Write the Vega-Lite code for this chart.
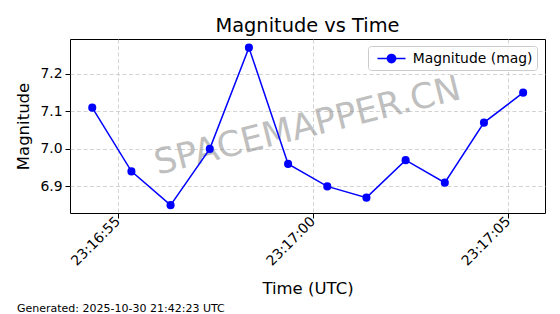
{
  "$schema": "https://vega.github.io/schema/vega-lite/v6.json",
  "padding": {"left": 15, "top": 15, "right": 5, "bottom": 2},
  "background": "white",
  "config": {"font": "DejaVu Sans", "view": {"stroke": "black", "strokeWidth": 1}},
  "title": {"text": "Generated: 2025-10-30 21:42:23 UTC", "orient": "bottom", "anchor": "start", "fontSize": 11, "fontWeight": "normal", "color": "black", "offset": 5, "dx": -53, "frame": "group"},
  "vconcat": [
    {
      "width": 475,
      "height": 174,
      "title": {"text": "Magnitude vs Time", "fontSize": 19.4, "fontWeight": "normal", "color": "black", "baseline": "alphabetic", "offset": -12, "anchor": "middle"},
      "data": {
        "values": [
          {"time": "2025-10-30T23:16:54.350Z", "mag": 7.11},
          {"time": "2025-10-30T23:16:55.354Z", "mag": 6.94},
          {"time": "2025-10-30T23:16:56.357Z", "mag": 6.85},
          {"time": "2025-10-30T23:16:57.361Z", "mag": 7.00},
          {"time": "2025-10-30T23:16:58.364Z", "mag": 7.27},
          {"time": "2025-10-30T23:16:59.368Z", "mag": 6.96},
          {"time": "2025-10-30T23:17:00.372Z", "mag": 6.90},
          {"time": "2025-10-30T23:17:01.375Z", "mag": 6.87},
          {"time": "2025-10-30T23:17:02.379Z", "mag": 6.97},
          {"time": "2025-10-30T23:17:03.383Z", "mag": 6.91},
          {"time": "2025-10-30T23:17:04.386Z", "mag": 7.07},
          {"time": "2025-10-30T23:17:05.390Z", "mag": 7.15}
        ]
      },
      "layer": [
        {
          "data": {"values": [{"label": "SPACEMAPPER.CN"}]},
          "mark": {"type": "text", "fontSize": 35, "angle": -14, "color": "#808080", "opacity": 0.5, "align": "center", "baseline": "middle"},
          "encoding": {
            "x": {"datum": {"year": 2025, "month": 10, "date": 30, "hours": 23, "minutes": 16, "seconds": 59, "milliseconds": 865, "utc": true}, "type": "temporal"},
            "y": {"datum": 7.061, "type": "quantitative"},
            "text": {"field": "label"}
          }
        },
        {
          "mark": {"type": "line", "color": "#0000ff", "strokeWidth": 1.5},
          "encoding": {
            "x": {
              "field": "time", "type": "temporal",
              "scale": {"type": "utc", "domain": [
                {"year": 2025, "month": 10, "date": 30, "hours": 23, "minutes": 16, "seconds": 53, "milliseconds": 780, "utc": true},
                {"year": 2025, "month": 10, "date": 30, "hours": 23, "minutes": 17, "seconds": 5, "milliseconds": 950, "utc": true}
              ]},
              "axis": {
                "title": "Time (UTC)",
                "values": [
                  {"year": 2025, "month": 10, "date": 30, "hours": 23, "minutes": 16, "seconds": 55, "utc": true},
                  {"year": 2025, "month": 10, "date": 30, "hours": 23, "minutes": 17, "seconds": 0, "utc": true},
                  {"year": 2025, "month": 10, "date": 30, "hours": 23, "minutes": 17, "seconds": 5, "utc": true}
                ],
                "format": "%H:%M:%S",
                "labelAngle": -45, "labelAlign": "right", "labelBaseline": "middle",
                "labelDx": -2, "labelDy": -4,
                "labelFontSize": 13.9, "labelColor": "black", "labelPadding": 1,
                "labelFlush": false, "labelOverlap": false,
                "titleFontSize": 16.5, "titleFontWeight": "normal", "titleColor": "black", "titlePadding": 13,
                "tickSize": 5, "tickColor": "black", "tickWidth": 1,
                "domain": false,
                "grid": true, "gridColor": "#c8c8c8", "gridDash": [4, 2.5], "gridWidth": 0.8
              }
            },
            "y": {
              "field": "mag", "type": "quantitative",
              "scale": {"domain": [6.829, 7.293], "nice": false, "zero": false},
              "axis": {
                "title": "Magnitude",
                "values": [6.9, 7.0, 7.1, 7.2],
                "format": ".1f",
                "labelFontSize": 13.9, "labelColor": "black", "labelPadding": 3,
                "titleFontSize": 16.5, "titleFontWeight": "normal", "titleColor": "black", "titlePadding": 8,
                "tickSize": 5, "tickColor": "black", "tickWidth": 1,
                "domain": false,
                "grid": true, "gridColor": "#c8c8c8", "gridDash": [4, 2.5], "gridWidth": 0.8
              }
            }
          }
        },
        {
          "mark": {"type": "point", "filled": true, "size": 65, "opacity": 1},
          "encoding": {
            "x": {"field": "time", "type": "temporal"},
            "y": {"field": "mag", "type": "quantitative"},
            "color": {
              "datum": "Magnitude (mag)",
              "scale": {"range": ["#0000ff"]},
              "legend": {
                "title": null, "orient": "none", "legendX": 298, "legendY": 7,
                "symbolType": "M-1.87,0H1.87M-0.55,0A0.55,0.55,0,1,0,0.55,0A0.55,0.55,0,1,0,-0.55,0Z",
                "symbolSize": 225, "symbolStrokeWidth": 1.5,
                "symbolFillColor": "#0000ff", "symbolStrokeColor": "#0000ff",
                "labelFontSize": 13.9, "labelColor": "black", "labelOffset": 12.7,
                "padding": 4, "symbolOffset": 11,
                "strokeColor": "#cccccc", "fillColor": "rgba(255,255,255,0.8)", "cornerRadius": 3
              }
            }
          }
        }
      ]
    }
  ]
}
